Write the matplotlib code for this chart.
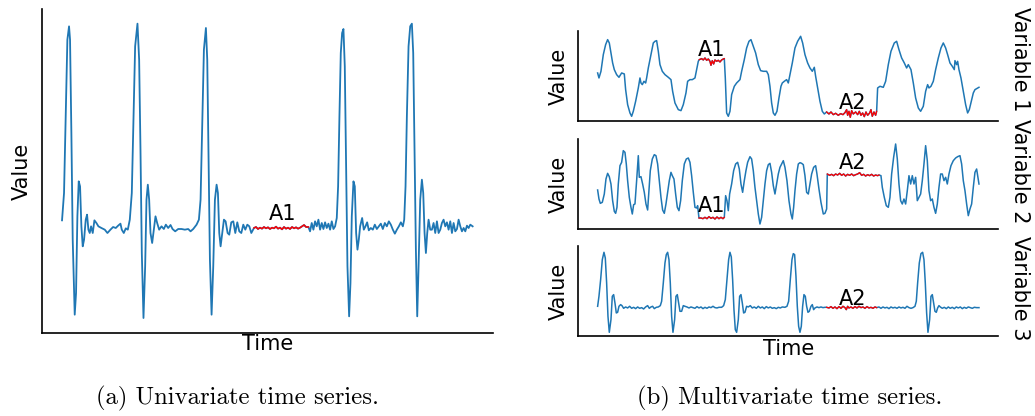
import numpy as np
import matplotlib
matplotlib.use('Agg')
import matplotlib.pyplot as plt

# --- datos (tiempo, valor) ---
# (a) serie univariada tipo ECG
uni = [(187,338),(193,420),(198,650),(203,880),(208,920),(211,880),(215,600),(219,280),(225,55),(229,120),
       (233,350),(237,455),(241,440),(245,320),(249,260),(253,280),(258,340),(262,355),(266,310),(270,300),
       (274,320),(279,300),(284,338),(290,330),(296,320),(305,315),(315,310),(323,300),(332,310),(340,318),
       (348,315),(355,322),(362,328),(366,310),(372,300),(378,314),(384,310),(390,340),(396,420),(401,640),
       (406,860),(413,928),(418,820),(422,550),(426,240),(431,45),(436,200),(440,400),(444,445),(448,400),
       (452,300),(457,270),(462,310),(467,350),(472,330),(478,310),(485,320),(492,312),(498,325),(505,315),
       (512,324),(518,312),(526,305),(535,312),(545,312),(555,310),(565,312),(572,305),(580,312),(590,325),
       (597,340),(602,400),(607,630),(612,850),(618,915),(622,820),(626,520),(630,220),(635,55),(640,200),
       (645,400),(650,445),(654,420),(658,300),(662,260),(667,300),(672,340),(677,335),(683,300),(688,295),
       (694,332),(700,335),(706,300),(712,332),(718,305),(724,300),(730,325),(736,310),(742,325),(748,320),
       (754,300),(762,315),(768,318),(774,312),(780,316),(786,313),(792,318),(798,314),(804,317),(810,312),
       (816,316),(822,314),(828,319),(834,313),(840,316),(846,311),(852,318),(858,313),(864,316),(870,312),
       (876,318),(882,314),(888,317),(894,313),(900,316),(906,320),(912,324),(918,318),(925,318),(930,305),
       (935,330),(940,310),(945,335),(950,320),(955,340),(960,310),(965,330),(970,312),(975,332),(980,315),
       (985,328),(990,310),(995,335),(1000,312),(1005,320),(1010,345),(1014,440),(1018,650),(1022,840),(1026,900),
       (1030,912),(1034,800),(1038,500),(1042,200),(1047,50),(1051,150),(1055,350),(1060,455),(1064,440),(1068,300),
       (1072,250),(1076,280),(1080,320),(1086,345),(1091,310),(1096,320),(1101,332),(1106,308),(1112,315),(1118,310),
       (1124,325),(1130,312),(1136,320),(1142,328),(1148,312),(1154,330),(1160,320),(1166,335),(1172,325),(1178,310),
       (1184,298),(1190,310),(1196,320),(1202,332),(1208,320),(1212,340),(1216,440),(1220,650),(1225,860),(1230,920),
       (1235,928),(1239,840),(1243,550),(1247,250),(1251,50),(1255,200),(1260,400),(1265,460),(1269,420),(1273,300),
       (1277,240),(1281,300),(1285,340),(1290,310),(1295,310),(1300,330),(1305,300),(1310,335),(1315,300),(1320,310),
       (1325,330),(1330,340),(1335,320),(1340,332),(1345,310),(1350,335),(1355,300),(1360,330),(1365,305),(1370,312),
       (1375,340),(1380,320),(1385,305),(1390,315),(1395,305),(1400,322),(1405,315),(1410,325),(1417,320)]
uni_anomalias = [('A1', 762, 925)]

# (b) serie multivariada, variable 1
var1 = [(68,165),(72,150),(78,170),(85,220),(92,250),(98,265),(103,255),(108,225),(113,195),(118,175),
        (125,160),(132,152),(140,165),(148,162),(152,115),(158,70),(165,45),(170,35),(175,50),(182,80),
        (190,120),(195,150),(198,135),(202,130),(207,140),(212,135),(215,150),(220,180),(228,220),(235,255),
        (240,260),(245,262),(250,230),(255,190),(262,170),(270,160),(280,152),(288,145),(293,110),(300,75),
        (310,55),(318,52),(325,70),(333,105),(338,140),(345,145),(352,145),(360,150),(365,175),(370,200),
        (373,205),(380,208),(385,204),(390,210),(395,203),(400,207),(405,200),(408,188),(412,202),(416,192),
        (420,204),(425,200),(430,203),(435,198),(440,204),(445,207),(448,208),(451,150),(455,45),(460,35),
        (465,50),(470,100),(478,125),(485,135),(490,140),(495,145),(500,170),(508,205),(515,240),(522,260),
        (528,265),(535,245),(542,225),(550,190),(557,172),(565,170),(575,170),(580,160),(585,125),(590,75),
        (595,45),(600,38),(606,50),(612,90),(618,125),(622,135),(628,140),(635,145),(640,135),(645,160),
        (652,195),(660,240),(668,260),(677,275),(683,255),(690,220),(698,195),(705,180),(712,170),(718,182),
        (722,155),(728,120),(735,80),(742,50),(748,42),(755,48),(762,42),(768,48),(775,40),(782,44),
        (790,38),(797,43),(804,40),(810,46),(815,55),(818,38),(822,50),(826,32),(830,52),(835,42),
        (842,48),(848,40),(853,50),(858,38),(863,45),(868,34),(873,48),(878,38),(884,45),(888,55),
        (892,35),(897,48),(902,38),(905,50),(908,120),(915,125),(925,122),(932,140),(940,190),(948,230),
        (958,255),(965,260),(972,235),(980,210),(988,195),(995,180),(1000,190),(1008,175),(1015,135),(1022,90),
        (1030,60),(1037,50),(1045,65),(1052,110),(1058,130),(1062,120),(1068,125),(1075,140),(1082,175),(1090,210),
        (1098,240),(1105,255),(1112,240),(1118,220),(1125,195),(1132,185),(1138,175),(1140,202),(1145,190),(1148,200),
        (1152,175),(1158,150),(1165,110),(1172,70),(1178,45),(1183,55),(1190,85),(1195,105),(1200,115),(1212,122)]
var1_anomalias = [('A1', 373, 448), ('A2', 755, 905)]

# variable 2
var2 = [(68,132),(72,105),(76,92),(82,95),(88,120),(93,165),(98,182),(103,172),(108,150),(113,100),
        (118,68),(122,62),(126,80),(130,150),(135,205),(140,215),(145,250),(150,245),(154,210),(158,160),
        (163,110),(168,80),(172,60),(176,88),(180,90),(185,160),(190,235),(193,170),(198,172),(203,150),
        (208,125),(213,90),(218,72),(222,130),(226,190),(232,225),(238,238),(243,235),(248,210),(253,160),
        (258,110),(263,72),(268,62),(273,90),(278,125),(283,160),(288,185),(292,175),(297,165),(302,120),
        (307,80),(312,70),(317,100),(322,160),(328,210),(334,225),(340,228),(345,215),(350,175),(355,125),
        (360,80),(365,78),(368,85),(372,48),(378,48),(384,46),(390,50),(396,46),(402,52),(408,47),
        (414,50),(420,45),(426,51),(432,46),(438,50),(444,46),(448,50),(452,115),(456,100),(460,70),
        (464,120),(470,150),(476,190),(482,210),(488,215),(493,195),(498,150),(503,125),(508,160),(513,190),
        (518,215),(525,232),(530,225),(535,190),(540,140),(545,100),(550,60),(555,30),(560,50),(565,100),
        (570,150),(575,190),(580,208),(585,212),(590,185),(595,145),(600,120),(605,150),(610,180),(615,200),
        (620,210),(625,220),(630,200),(636,160),(642,100),(648,60),(652,45),(656,80),(660,130),(665,180),
        (670,210),(675,214),(680,212),(685,208),(690,175),(695,125),(700,120),(705,150),(710,180),(716,200),
        (722,205),(726,180),(732,135),(738,95),(745,60),(750,62),(755,75),(757,180),(764,176),(770,179),
        (776,175),(782,180),(788,177),(794,182),(800,176),(806,180),(812,174),(818,179),(824,176),(830,180),
        (836,175),(842,178),(848,180),(854,184),(860,176),(866,179),(872,174),(878,178),(884,175),(890,179),
        (896,174),(902,177),(908,175),(912,177),(918,175),(922,140),(928,110),(934,85),(940,80),(945,110),
        (950,180),(956,230),(962,270),(967,225),(972,150),(977,100),(982,90),(987,105),(992,90),(997,130),
        (1002,175),(1007,150),(1012,175),(1017,150),(1022,170),(1027,100),(1032,110),(1037,120),(1042,160),(1047,210),
        (1052,265),(1057,220),(1062,130),(1067,100),(1072,105),(1077,80),(1082,62),(1087,90),(1092,140),(1097,180),
        (1102,180),(1107,160),(1112,170),(1117,150),(1122,180),(1128,205),(1135,220),(1142,228),(1148,232),(1155,235),
        (1160,210),(1165,160),(1170,130),(1175,90),(1180,55),(1185,75),(1190,90),(1195,140),(1200,185),(1205,195),
        (1212,150)]
var2_anomalias = [('A1', 372, 448), ('A2', 757, 912)]

# variable 3
var3 = [(68,110),(72,140),(77,190),(82,250),(87,272),(91,255),(95,180),(99,80),(103,32),(108,70),
        (112,140),(116,145),(120,120),(124,90),(128,92),(132,110),(137,115),(141,112),(146,104),(152,108),
        (158,105),(164,110),(170,104),(176,107),(182,103),(188,108),(194,104),(200,106),(206,102),(212,108),
        (218,112),(223,104),(228,108),(233,110),(238,103),(244,107),(250,108),(256,112),(260,125),(265,180),
        (270,240),(274,265),(278,272),(282,250),(286,180),(290,80),(294,32),(299,70),(303,140),(307,145),
        (311,120),(315,95),(320,95),(325,112),(330,110),(336,108),(342,105),(348,108),(354,106),(360,104),
        (366,109),(372,105),(378,108),(384,103),(390,107),(396,104),(402,108),(408,106),(414,110),(420,106),
        (426,105),(432,107),(440,107),(446,112),(451,130),(456,190),(461,250),(465,272),(469,258),(473,190),
        (477,100),(481,40),(485,32),(490,70),(494,140),(498,145),(502,120),(506,90),(510,92),(515,110),
        (520,108),(526,112),(532,105),(538,108),(544,104),(550,110),(556,105),(562,108),(568,103),(574,109),
        (580,105),(586,108),(592,104),(598,106),(604,103),(610,107),(616,105),(622,108),(630,107),(636,110),
        (641,125),(646,190),(651,250),(655,268),(659,265),(663,200),(667,110),(671,50),(675,32),(679,50),
        (683,110),(687,145),(691,140),(695,110),(699,92),(703,95),(708,110),(712,115),(716,100),(720,105),
        (726,108),(732,106),(738,108),(744,106),(750,107),(755,107),(762,105),(768,109),(774,104),(780,108),
        (786,103),(792,109),(798,104),(804,110),(810,106),(814,100),(818,110),(822,105),(828,108),(834,104),
        (840,109),(846,105),(852,110),(858,106),(864,108),(870,104),(876,109),(882,105),(888,107),(894,104),
        (900,108),(905,106),(912,108),(918,104),(924,108),(930,105),(936,107),(942,103),(948,108),(954,105),
        (960,107),(966,104),(972,108),(978,105),(984,107),(990,104),(996,110),(1002,106),(1008,104),(1014,106),
        (1020,110),(1024,125),(1028,180),(1033,240),(1038,268),(1043,272),(1047,250),(1051,180),(1055,90),(1059,32),
        (1064,70),(1068,140),(1072,145),(1076,120),(1080,95),(1084,92),(1088,105),(1092,112),(1096,108),(1102,104),
        (1108,107),(1114,103),(1120,108),(1126,104),(1132,107),(1138,103),(1144,108),(1150,105),(1156,108),(1162,103),
        (1168,107),(1174,104),(1180,108),(1186,106),(1192,104),(1198,107),(1205,106),(1212,106)]
var3_anomalias = [('A2', 755, 905)]

# posicion de las etiquetas de anomalia (tiempo, valor)
etiquetas_uni = {'A1': (848, 340)}
etiquetas_var = [{'A1': (410, 215), 'A2': (832, 57)},
                 {'A1': (410, 65), 'A2': (832, 195)},
                 {'A2': (832, 115)}]

AZUL = '#1f77b4'
ROJO = 'red'
W, H = 1035, 416


def dibujar(ax, serie, anomalias, etiquetas, lw):
    t, v = np.array(serie, dtype=float).T
    ax.plot(t, v, color=AZUL, lw=lw)
    for nombre, ini, fin in anomalias:
        m = (t >= ini) & (t <= fin)
        ax.plot(t[m], v[m], color=ROJO, lw=lw * 0.85)
    for nombre, (x, y) in etiquetas.items():
        ax.text(x, y, nombre, fontsize=15, ha='center', va='baseline')
    for s in ['top', 'right']:
        ax.spines[s].set_visible(False)
    for s in ['left', 'bottom']:
        ax.spines[s].set_linewidth(1.2)
    ax.set_xticks([])
    ax.set_yticks([])


def caja(x0, y0, x1, y1):
    # pixeles (arriba-izquierda) -> fraccion de figura
    return [x0 / W, 1 - y1 / H, (x1 - x0) / W, (y1 - y0) / H]


fig = plt.figure(figsize=(W / 100, H / 100), dpi=100)

# (a)
ax = fig.add_axes(caja(42, 9, 493, 333))
dibujar(ax, uni, uni_anomalias, etiquetas_uni, 1.3)
ax.set_xlim(127, 1478)
ax.set_ylim(0, 972)
ax.set_xlabel('Time', fontsize=15, labelpad=1)
ax.set_ylabel('Value', fontsize=15, labelpad=7)

# (b)
series = [var1, var2, var3]
anoms = [var1_anomalias, var2_anomalias, var3_anomalias]
cajas = [(31.3, 121.3), (139, 229), (246.3, 336.3)]
ylims = [(20, 290), (15, 285), (20, 290)]
for i in range(3):
    y0, y1 = cajas[i]
    ax = fig.add_axes(caja(578.3, y0, 998.3, y1))
    dibujar(ax, series[i], anoms[i], etiquetas_var[i], 1.1)
    ax.set_xlim(10, 1270)
    ax.set_ylim(*ylims[i])
    ax.set_ylabel('Value', fontsize=15, labelpad=7)
    if i == 2:
        ax.set_xlabel('Time', fontsize=15, labelpad=2)

for nombre, yc in [('Variable 1', 59), ('Variable 2', 171), ('Variable 3', 288)]:
    fig.text(1020 / W, 1 - yc / H, nombre, fontsize=15, rotation=270,
             ha='center', va='center')

fig.text(237.5 / W, 1 - 398 / H, '(a) Univariate time series.', family='cmr10',
         fontsize=17.8, ha='center', va='center')
fig.text(790 / W, 1 - 398 / H, '(b) Multivariate time series.', family='cmr10',
         fontsize=17.8, ha='center', va='center')

fig.savefig('out.png', dpi=100)
